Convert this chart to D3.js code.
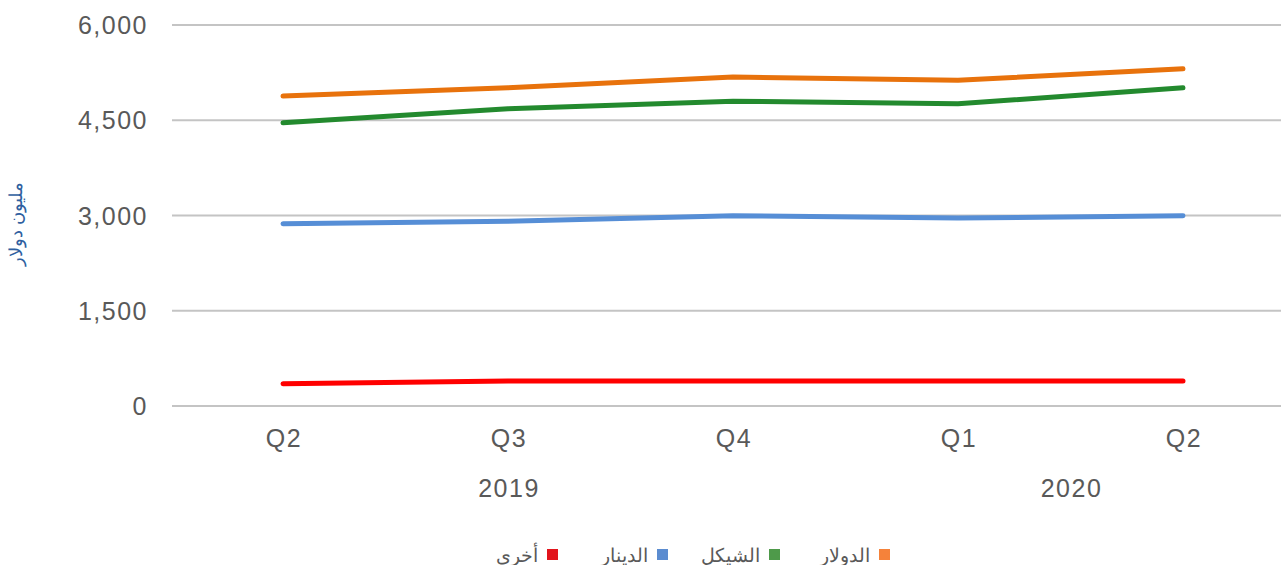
<!DOCTYPE html>
<html><head><meta charset="utf-8">
<script src="https://cdn.jsdelivr.net/npm/d3@7"></script>
<style>body{margin:0;background:#fff}svg{display:block}text{font-family:"Liberation Sans",Arial,sans-serif}</style>
</head><body><svg id="c" width="1281" height="565"></svg>
<script>
const quarters = ["Q2","Q3","Q4","Q1","Q2"];
const years = [{label:"2019", from:0, to:2},{label:"2020", from:3, to:4}];
const yTicks = [0,1500,3000,4500,6000];
const seriesNames = ["الدولار","الشيكل","الدينار","أخرى"];
const dollar = [4880,5010,5180,5130,5310];
const shekel = [4460,4680,4800,4760,5010];
const dinar  = [2870,2910,2995,2960,2995];
const other  = [350,395,395,395,395];
const lineColors = ["#E8720C","#238A2E","#568ED6","#FF0000"];
const legendColors = ["#F5823A","#4E9A4A","#5B8CD0","#E2141C"];
const seriesData = [dollar, shekel, dinar, other];

const svg = d3.select("#c");
const x = d3.scaleBand().domain(d3.range(quarters.length)).range([170.5,1295.5]);
const y = d3.scaleLinear().domain([0,6000]).range([406,25]);
const cx = i => x(i) + x.bandwidth()/2;

// grid
svg.append("g").selectAll("line").data(yTicks).join("line")
  .attr("x1",172).attr("x2",1281).attr("y1",d=>y(d)).attr("y2",d=>y(d))
  .attr("stroke","#C4C4C4").attr("stroke-width",2);

// y tick labels
svg.append("g").selectAll("text").data(yTicks).join("text")
  .attr("x",148).attr("y",d=>y(d)).attr("dy","0.36em").attr("text-anchor","end")
  .attr("font-size",25).attr("letter-spacing",1.5).attr("fill","#595959").text(d3.format(","));

// x labels
svg.append("g").selectAll("text").data(quarters).join("text")
  .attr("x",(d,i)=>cx(i)+1).attr("y",447).attr("text-anchor","middle")
  .attr("font-size",25).attr("letter-spacing",1.5).attr("fill","#595959").text(d=>d);
svg.append("g").selectAll("text").data(years).join("text")
  .attr("x",d=>(cx(d.from)+cx(d.to))/2+1).attr("y",497).attr("text-anchor","middle")
  .attr("font-size",25).attr("letter-spacing",1.5).attr("fill","#595959").text(d=>d.label);

// y axis title
svg.append("text").attr("transform","translate(22,224) rotate(-90)")
  .attr("text-anchor","middle").attr("font-size",18).attr("fill","#2F5FA0")
  .attr("font-family","'DejaVu Sans',sans-serif").text("مليون دولار");

// lines
const line = d3.line().x((d,i)=>cx(i)).y(d=>y(d));
svg.append("g").selectAll("path").data(seriesData).join("path")
  .attr("d",line).attr("fill","none").attr("stroke",(d,i)=>lineColors[i])
  .attr("stroke-width",5).attr("stroke-linecap","round").attr("stroke-linejoin","round");

// legend
const legendSq = [884,774,662,552];
const lg = svg.append("g");
seriesNames.forEach((n,i)=>{
  lg.append("rect").attr("x",legendSq[i]-5).attr("y",549).attr("width",11).attr("height",11).attr("fill",legendColors[i]);
  lg.append("text").attr("x",legendSq[i]-14).attr("y",562).attr("text-anchor","end")
    .attr("font-size",19).attr("fill","#595959").text(n);
});
</script></body></html>
